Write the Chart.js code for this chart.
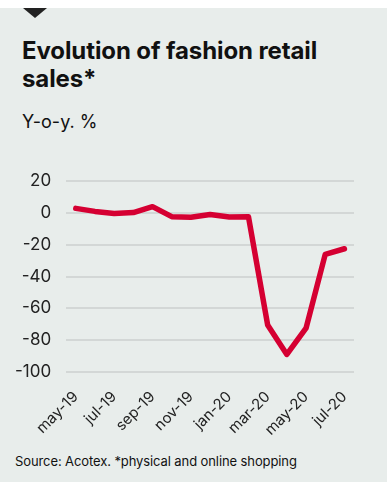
<!DOCTYPE html>
<html>
<head>
<meta charset="utf-8">
<script src="https://cdn.jsdelivr.net/npm/chart.js@4"></script>
<style>
  body { margin: 0; width: 387px; height: 482px; background: #e8edeb; overflow: hidden; position: relative; font-family: Inter, "Liberation Sans", sans-serif; color: #111; }
  .strip { position: absolute; left: 0; top: 0; width: 387px; height: 8px; background: #fff; }
  .tri { position: absolute; left: 23px; top: 8px; width: 0; height: 0; border-left: 12px solid transparent; border-right: 12px solid transparent; border-top: 10px solid #222; }
  h1 { position: absolute; left: 22px; top: 37px; margin: 0; width: 330px; font-size: 24px; font-weight: 700; line-height: 28px; letter-spacing: -0.1px; }
  .sub { position: absolute; left: 22px; top: 111px; font-size: 18px; }
  .src { position: absolute; left: 15px; top: 453px; font-size: 13px; letter-spacing: -0.1px; }
  .wrap { position: absolute; left: 0; top: 156px; width: 387px; height: 291px; }
</style>
</head>
<body>
<div class="strip"></div>
<div class="tri"></div>
<h1>Evolution of fashion retail sales*</h1>
<div class="sub">Y-o-y. %</div>
<div class="wrap"><canvas id="salesChart"></canvas></div>
<div class="src">Source: Acotex. *physical and online shopping</div>

<script>
const months = ['may-19', 'jun-19', 'jul-19', 'aug-19', 'sep-19', 'oct-19', 'nov-19', 'dec-19',
    'jan-20', 'feb-20', 'mar-20', 'apr-20', 'may-20', 'jun-20', 'jul-20'];
const salesYoY = [2.9, 1, -0.3, 0.3, 4, -2.3, -2.7, -1, -2.5, -2.3, -70.4, -89, -72.5, -26, -22.5];
const yTicks = [20, 0, -20, -40, -60, -80, -100];

const salesCtx = document.getElementById('salesChart').getContext('2d');
const salesChart = new Chart(salesCtx, {
    type: 'line',
    data: {
        labels: months,
        datasets: [{
            data: salesYoY,
            borderColor: '#d50032',
            borderWidth: 5.5,
            pointRadius: 0,
            tension: 0,
            fill: false,
            borderJoinStyle: 'round',
            borderCapStyle: 'round'
        }]
    },
    options: {
        responsive: true,
        maintainAspectRatio: false,
        animation: false,
        layout: {
            padding: { left: 0, right: 33, top: 4, bottom: 0 }
        },
        plugins: {
            legend: { display: false },
            tooltip: { enabled: false }
        },
        scales: {
            y: {
                min: -100,
                max: 20,
                afterBuildTicks: axis => {
                    axis.ticks = yTicks.map(v => ({ value: v }));
                },
                border: { display: false },
                grid: {
                    color: '#d3d7d6',
                    lineWidth: 2,
                    drawTicks: false
                },
                ticks: {
                    padding: 15,
                    color: '#222',
                    font: { family: 'Inter', size: 17 }
                }
            },
            x: {
                offset: true,
                border: { display: false },
                grid: { display: false },
                ticks: {
                    autoSkip: false,
                    maxRotation: 45,
                    minRotation: 45,
                    padding: 8,
                    color: '#222',
                    font: { family: 'Inter', size: 15 },
                    callback: function (value, index) {
                        return index % 2 === 0 ? this.getLabelForValue(value) : '';
                    }
                }
            }
        }
    }
});
</script>
</body>
</html>
